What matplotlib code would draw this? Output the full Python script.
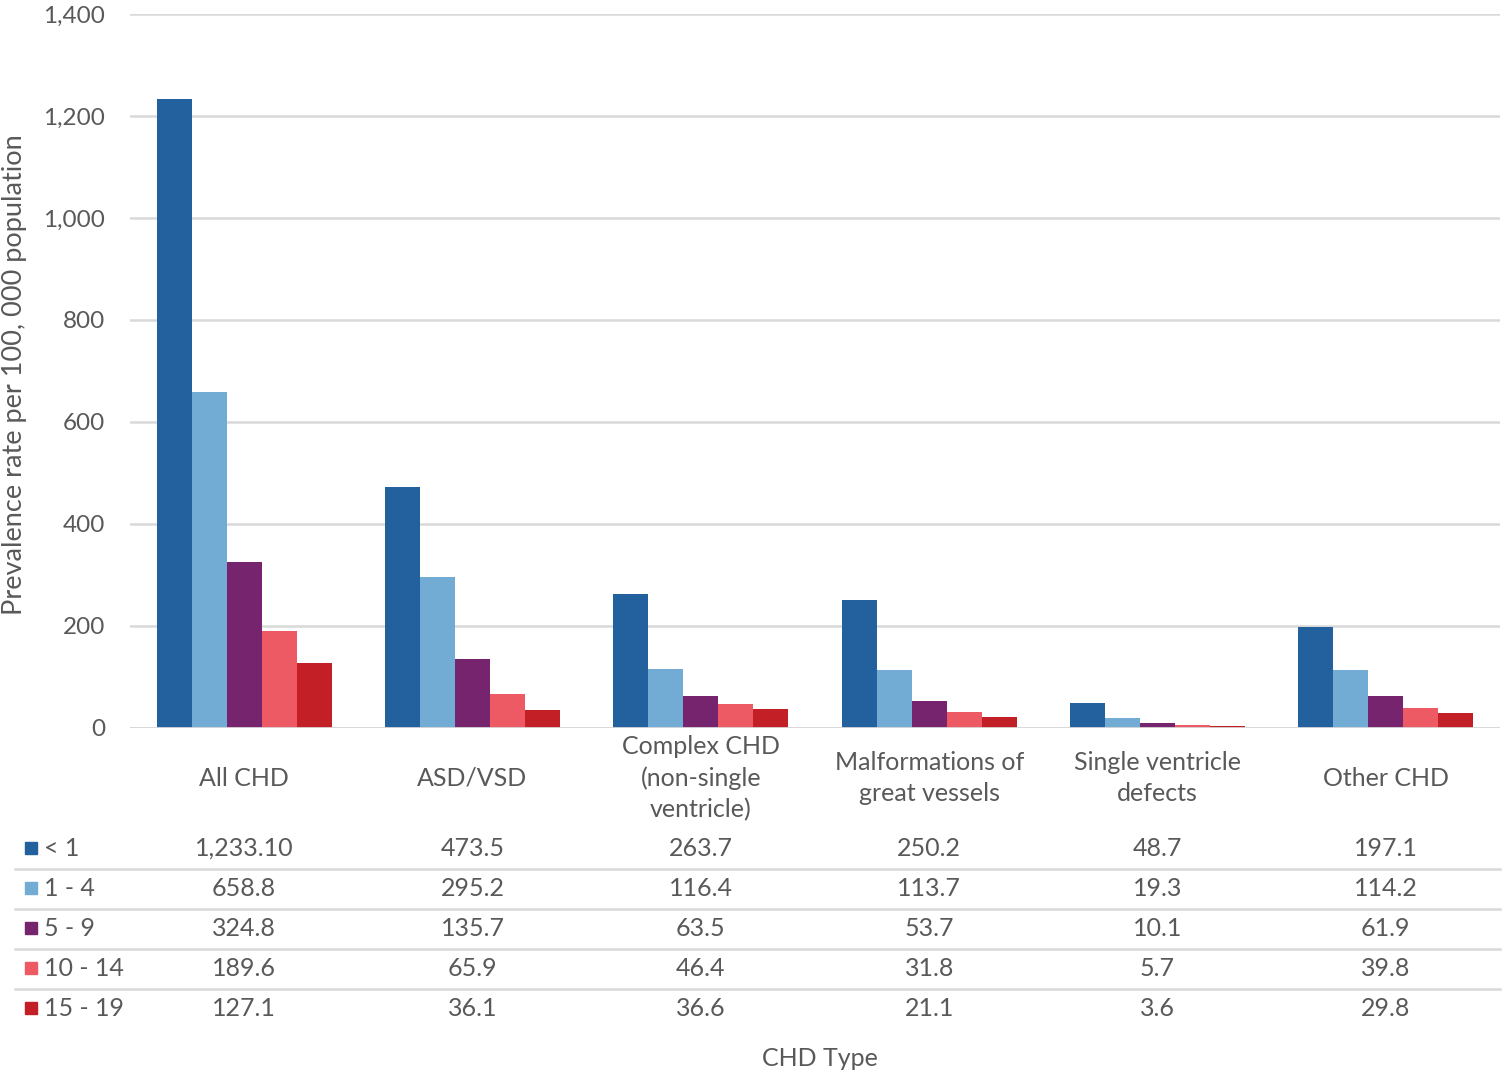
import numpy as np
import matplotlib.pyplot as plt
import matplotlib.transforms as mtransforms
from matplotlib.patches import Rectangle

plt.rcParams['font.family'] = ['Lato', 'DejaVu Sans']

categories = ['All CHD', 'ASD/VSD', 'Complex CHD\n(non-single\nventricle)',
              'Malformations of\ngreat vessels', 'Single ventricle\ndefects', 'Other CHD']
age_groups = ['< 1', '1 - 4', '5 - 9', '10 - 14', '15 - 19']
lt1 = [1233.10, 473.5, 263.7, 250.2, 48.7, 197.1]
a1_4 = [658.8, 295.2, 116.4, 113.7, 19.3, 114.2]
a5_9 = [324.8, 135.7, 63.5, 53.7, 10.1, 61.9]
a10_14 = [189.6, 65.9, 46.4, 31.8, 5.7, 39.8]
a15_19 = [127.1, 36.1, 36.6, 21.1, 3.6, 29.8]
table_text = [
    ['1,233.10', '473.5', '263.7', '250.2', '48.7', '197.1'],
    ['658.8', '295.2', '116.4', '113.7', '19.3', '114.2'],
    ['324.8', '135.7', '63.5', '53.7', '10.1', '61.9'],
    ['189.6', '65.9', '46.4', '31.8', '5.7', '39.8'],
    ['127.1', '36.1', '36.6', '21.1', '3.6', '29.8'],
]
series = [lt1, a1_4, a5_9, a10_14, a15_19]
colors = ['#22609E', '#72ABD3', '#77246E', '#EE5A64', '#C22026']
text_col = '#595959'
grid_col = '#D9D9D9'
fs = 18

W, H = 1505, 1081
fig = plt.figure(figsize=(W / 100, H / 100), dpi=100)
ax = fig.add_axes([130 / W, 1 - 728 / H, 1370 / W, (728 - 14) / H])

x = np.arange(len(categories))
bw = 0.153
for i, (vals, c) in enumerate(zip(series, colors)):
    ax.bar(x + (i - 2) * bw, vals, bw, color=c, zorder=3)

ax.set_xlim(-0.5, len(categories) - 0.5)
ax.set_ylim(0, 1400)
ax.set_yticks(np.arange(0, 1401, 200))
ax.set_yticklabels([f'{v:,}' for v in range(0, 1401, 200)])
ax.tick_params(axis='y', length=0, pad=18, labelsize=17.5, labelcolor=text_col)
ax.set_xticks([])
ax.grid(axis='y', color=grid_col, linewidth=1.8, zorder=0)
for s in ax.spines.values():
    s.set_visible(False)
ax.axhline(0, color=grid_col, linewidth=2, zorder=4)

fig.text(15 / W, 1 - 375 / H, 'Prevalence rate per 100, 000 population', rotation=90,
         ha='center', va='center', fontsize=19.5, color=text_col)

# category labels under the axis
trans = mtransforms.blended_transform_factory(ax.transData, fig.transFigure)
for xi, cat in zip(x, categories):
    ax.text(xi, 1 - 778 / H, cat, transform=trans, ha='center', va='center',
            fontsize=fs, color=text_col, linespacing=1.42, clip_on=False)

# data table
row_y = [848, 888, 928, 968, 1008]
for r, (lab, c) in enumerate(zip(age_groups, colors)):
    yf = 1 - row_y[r] / H
    fig.patches.append(Rectangle((25 / W, yf - 6 / H), 12 / W, 12 / H,
                                 transform=fig.transFigure, color=c))
    fig.text(44 / W, yf, lab, ha='left', va='center', fontsize=fs, color=text_col)
    for xi, t in zip(x, table_text[r]):
        ax.text(xi, yf, t, transform=trans, ha='center', va='center',
                fontsize=fs, color=text_col, clip_on=False)
    if r < len(age_groups) - 1:
        ly = 1 - (row_y[r] + 21) / H
        fig.add_artist(plt.Line2D([15 / W, 1500 / W], [ly, ly], color=grid_col,
                                  linewidth=1.8, transform=fig.transFigure))

fig.text(820 / W, 1 - 1058 / H, 'CHD Type', ha='center', va='center',
         fontsize=fs, color=text_col)

fig.savefig('out.png', dpi=100)
